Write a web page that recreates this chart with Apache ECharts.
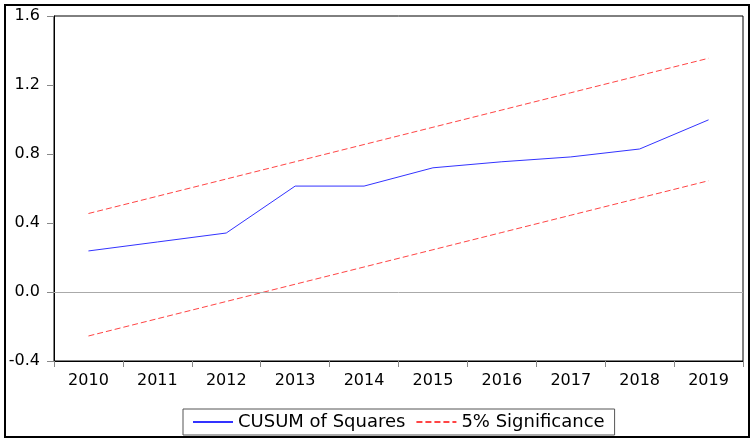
<!DOCTYPE html>
<html>
<head>
<meta charset="utf-8">
<script src="https://cdn.jsdelivr.net/npm/echarts@6/dist/echarts.min.js"></script>
<style>
html,body{margin:0;padding:0;background:#fff;}
#chart{width:756px;height:446px;}
</style>
</head>
<body>
<div id="chart"></div>
<script>
var years = ['2010','2011','2012','2013','2014','2015','2016','2017','2018','2019'];
var cusumSq = [0.238, 0.290, 0.342, 0.614, 0.614, 0.720, 0.755, 0.783, 0.829, 0.998];
var upper5 = [0.455, 0.555, 0.655, 0.755, 0.855, 0.955, 1.055, 1.155, 1.255, 1.355];
var lower5 = [-0.255, -0.155, -0.055, 0.045, 0.145, 0.245, 0.345, 0.445, 0.545, 0.645];
var yTicks = {min: -0.4, max: 1.6, interval: 0.4};

var FONT = 'DejaVu Sans';
var chart = echarts.init(document.getElementById('chart'), null, {renderer: 'canvas'});
chart.setOption({
  animation: false,
  backgroundColor: '#fff',
  grid: {left: 54, top: 16, right: 13, bottom: 85, show: true, borderColor: '#000', borderWidth: 1, backgroundColor: '#fff'},
  xAxis: {
    type: 'category', data: years, boundaryGap: true,
    axisLine: {onZero: false, lineStyle: {color: '#000', width: 1}},
    axisTick: {show: true, length: 6, lineStyle: {color: '#888'}},
    axisLabel: {color: '#000', fontFamily: FONT, fontSize: 16, margin: 12}
  },
  yAxis: {
    type: 'value', min: yTicks.min, max: yTicks.max, interval: yTicks.interval,
    axisLine: {show: true, lineStyle: {color: '#000', width: 1}},
    axisTick: {show: true, length: 7, lineStyle: {color: '#888'}},
    splitLine: {show: false},
    axisLabel: {color: '#000', fontFamily: FONT, fontSize: 16, margin: 14,
      formatter: function (v) { return v.toFixed(1); }}
  },
  legend: {
    left: 183, top: 409, orient: 'horizontal',
    padding: [4, 10, 4, 9], itemGap: 10, itemWidth: 40, itemHeight: 10,
    borderColor: '#555', borderWidth: 1, backgroundColor: '#fff',
    itemStyle: {color: 'transparent', borderWidth: 0, opacity: 0},
    textStyle: {color: '#000', fontFamily: FONT, fontSize: 18},
    data: ['CUSUM of Squares', '5% Significance']
  },
  series: [
    {name: 'CUSUM of Squares', type: 'line', data: cusumSq, symbol: 'none',
      lineStyle: {color: '#3333ff', width: 1}, itemStyle: {color: '#3333ff'},
      markLine: {silent: true, symbol: 'none', label: {show: false},
        lineStyle: {color: '#aaa', type: 'solid', width: 1}, data: [{yAxis: 0}]}},
    {name: '5% Significance', type: 'line', data: upper5, symbol: 'none',
      lineStyle: {color: '#ff4444', width: 1, type: [6, 3]}, itemStyle: {color: '#ff4444'}},
    {name: '5% Significance', type: 'line', data: lower5, symbol: 'none',
      lineStyle: {color: '#ff4444', width: 1, type: [6, 3]}, itemStyle: {color: '#ff4444'}}
  ],
  graphic: [
    {type: 'rect', z: -1, silent: true, shape: {x: 5, y: 5, width: 744, height: 432},
      style: {fill: 'none', stroke: '#000', lineWidth: 2}}
  ]
});
</script>
</body>
</html>
